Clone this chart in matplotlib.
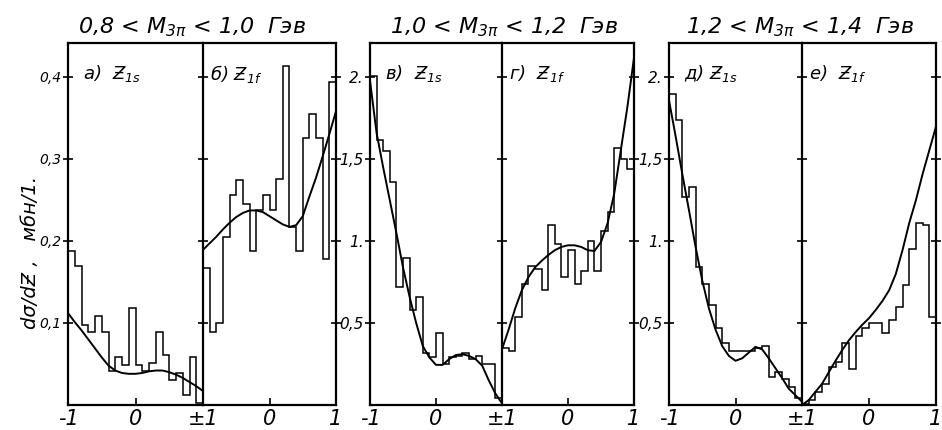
import numpy as np
import matplotlib
matplotlib.use("Agg")
import matplotlib.pyplot as plt

plt.rcParams["font.family"] = ["DejaVu Sans"]
plt.rcParams["font.style"] = "italic"
plt.rcParams["mathtext.fontset"] = "custom"
plt.rcParams["mathtext.it"] = "DejaVu Sans:italic"
plt.rcParams["mathtext.rm"] = "DejaVu Sans:italic"

# 20 bins on [-1, 1] in every half panel
BIN_EDGES = np.linspace(-1, 1, 21)
CURVE_X = np.linspace(-1, 1, 21)

# histograms, mb per unit
hist_a = [0.187, 0.169, 0.098, 0.089, 0.109, 0.089, 0.042, 0.059, 0.049, 0.118,
          0.049, 0.042, 0.051, 0.089, 0.061, 0.030, 0.039, 0.012, 0.059, 0.003]
hist_b = [0.167, 0.089, 0.100, 0.205, 0.256, 0.274, 0.245, 0.187, 0.237, 0.256,
          0.237, 0.275, 0.413, 0.217, 0.187, 0.325, 0.354, 0.325, 0.178, 0.394]
hist_c = [2.01, 1.62, 1.55, 1.36, 0.72, 0.90, 0.58, 0.66, 0.32, 0.29,
          0.44, 0.25, 0.29, 0.30, 0.32, 0.28, 0.30, 0.25, 0.25, 0.04]
hist_d = [0.35, 0.33, 0.54, 0.74, 0.85, 0.83, 0.70, 1.10, 0.98, 0.78,
          0.945, 0.74, 0.82, 1.00, 0.82, 1.06, 1.18, 1.57, 1.50, 1.44]
hist_e = [1.90, 1.74, 1.27, 1.33, 0.84, 0.74, 0.61, 0.47, 0.38, 0.33,
          0.33, 0.33, 0.33, 0.35, 0.36, 0.17, 0.20, 0.16, 0.11, 0.04]
hist_f = [0.005, 0.03, 0.08, 0.13, 0.23, 0.26, 0.38, 0.22, 0.42, 0.47,
          0.50, 0.50, 0.44, 0.52, 0.60, 0.73, 0.955, 1.11, 1.10, 0.54]

# fitted curves, sampled every 0.1
fit_a = [0.112, 0.101, 0.091, 0.080, 0.069, 0.058, 0.048, 0.042, 0.039, 0.038, 0.038,
         0.039, 0.041, 0.042, 0.042, 0.040, 0.037, 0.033, 0.028, 0.023, 0.017]
fit_b = [0.189, 0.197, 0.205, 0.214, 0.222, 0.229, 0.234, 0.237, 0.237, 0.235, 0.230,
         0.225, 0.220, 0.217, 0.219, 0.230, 0.254, 0.277, 0.303, 0.330, 0.358]
fit_c = [1.98, 1.66, 1.45, 1.25, 1.05, 0.84, 0.66, 0.50, 0.36, 0.29, 0.245,
         0.245, 0.28, 0.305, 0.31, 0.30, 0.28, 0.24, 0.15, 0.07, 0.01]
fit_d = [0.34, 0.46, 0.59, 0.70, 0.78, 0.84, 0.88, 0.915, 0.945, 0.965, 0.975,
         0.975, 0.965, 0.945, 0.94, 0.995, 1.11, 1.29, 1.555, 1.82, 2.12]
fit_e = [1.86, 1.64, 1.41, 1.19, 0.965, 0.76, 0.59, 0.46, 0.36, 0.30, 0.27,
         0.285, 0.32, 0.355, 0.34, 0.285, 0.225, 0.165, 0.10, 0.06, 0.02]
fit_f = [0.0, 0.03, 0.08, 0.13, 0.20, 0.27, 0.335, 0.395, 0.445, 0.49, 0.53,
         0.58, 0.635, 0.70, 0.80, 0.945, 1.11, 1.25, 1.41, 1.555, 1.70]

titles = ["0,8 < $M_{3\\pi}$ < 1,0  Гэв",
          "1,0 < $M_{3\\pi}$ < 1,2  Гэв",
          "1,2 < $M_{3\\pi}$ < 1,4  Гэв"]
panel_labels = ["а)  $Ƶ_{1s}$", "б) $Ƶ_{1f}$", "в)  $Ƶ_{1s}$",
                "г)  $Ƶ_{1f}$", "д) $Ƶ_{1s}$", "е)  $Ƶ_{1f}$"]
ytick_vals = [[0.1, 0.2, 0.3, 0.4], [0.5, 1.0, 1.5, 2.0], [0.5, 1.0, 1.5, 2.0]]
ytick_text = [["0,1", "0,2", "0,3", "0,4"], ["0,5", "1.", "1,5", "2."],
              ["0,5", "1.", "1,5", "2."]]
ytops = [0.441, 2.21, 2.21]

hists = [hist_a, hist_b, hist_c, hist_d, hist_e, hist_f]
fits = [fit_a, fit_b, fit_c, fit_d, fit_e, fit_f]

W, H = 942, 430
groups = [(68, 203, 336), (370, 502, 634), (669, 802, 936)]
title_x = [192, 504, 800]
TOP, BOT = 43, 405

fig = plt.figure(figsize=(W / 100, H / 100), dpi=100)
fig.patch.set_facecolor("white")

for g, (L, M, R) in enumerate(groups):
    for half, (x0, x1) in enumerate([(L, M), (M, R)]):
        k = 2 * g + half
        ax = fig.add_axes([x0 / W, 1 - BOT / H, (x1 - x0) / W, (BOT - TOP) / H])
        ax.set_xlim(-1, 1)
        ax.set_ylim(0, ytops[g])
        ax.stairs(hists[k], BIN_EDGES, baseline=None, color="black", lw=1.1)
        ax.plot(CURVE_X, fits[k], color="black", lw=1.4)
        for s in ax.spines.values():
            s.set_linewidth(1.6)
        if half == 0:
            ax.spines["right"].set_visible(False)
            ax.set_xticks([-1, 0, 1], ["-1", "0", "±1"])
        else:
            ax.set_xticks([-1, 0, 1], ["", "0", "1"])
        for loc, t in zip(ax.get_xticks(), ax.xaxis.get_major_ticks()):
            if loc != 0:
                t.tick1line.set_visible(False)
        ax.tick_params(axis="x", direction="in", length=5, width=1.2,
                       labelsize=15, pad=3)
        ax.set_yticks(ytick_vals[g], ytick_text[g] if half == 0 else [])
        ax.tick_params(axis="y", direction="inout", length=7, width=1.2,
                       labelsize=10 if g == 0 else 11, pad=1,
                       right=(half == 1))
        ax.text(0.11 if half == 0 else 0.05, 0.915, panel_labels[k],
                transform=ax.transAxes, fontsize=13, va="center", ha="left")
    fig.text(title_x[g] / W, 1 - 39 / H, titles[g], ha="center", va="bottom",
             fontsize=16)

fig.text(0.032, 1 - 252 / H, "dσ/dƵ ,   мбн/1.", rotation=90,
         ha="center", va="center", fontsize=14)

fig.savefig("out.png", dpi=100)
